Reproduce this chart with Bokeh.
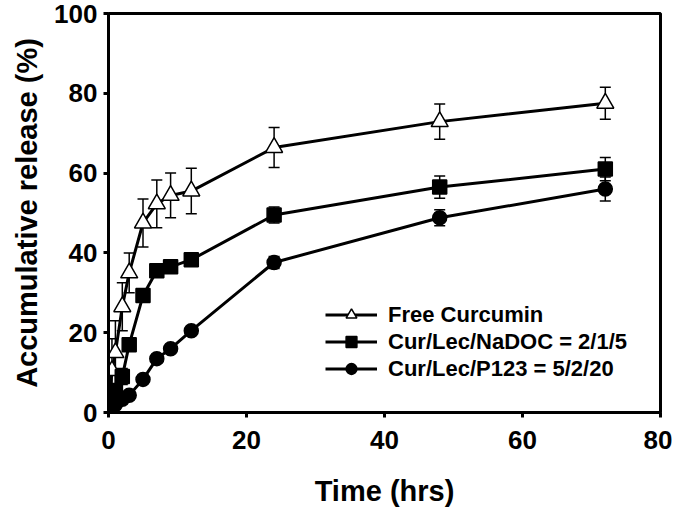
from bokeh.plotting import figure
from bokeh.models import Range1d, Whisker, ColumnDataSource, Legend, LegendItem, TeeHead, FixedTicker
from bokeh.embed import file_html
from bokeh.resources import INLINE

times = [0, 0.5, 1, 2, 3, 5, 7, 9, 12, 24, 48, 72]
free_curcumin = [0, 10.5, 15, 26.5, 35, 47.5, 52.3, 54.4, 55.5, 66.4, 72.9, 77.5]
free_err = [0, 8, 8, 6, 5, 6, 6, 5.6, 5.7, 5, 4.4, 4]
nadoc = [0, 3, 5.5, 9, 17, 29.3, 35.5, 36.5, 38.3, 49.5, 56.5, 61]
nadoc_err = [0, 1, 1.5, 2, 1.5, 1.5, 1.5, 1.5, 1.5, 2, 2.8, 2.9]
p123 = [0, 1, 2, 3.3, 4.3, 8.3, 13.5, 16, 20.5, 37.6, 48.8, 56]
p123_err = [0, 0.5, 0.5, 0.5, 0.8, 1, 1, 1, 1, 1.5, 2, 3]
x_ticks = [0, 20, 40, 60, 80]
y_ticks = [0, 20, 40, 60, 80, 100]
labels = ["Free Curcumin", "Cur/Lec/NaDOC = 2/1/5", "Cur/Lec/P123 = 5/2/20"]

FONT = "Liberation Sans"

p = figure(width=672, height=509, output_backend="svg", toolbar_location=None,
           x_range=Range1d(0, 80), y_range=Range1d(0, 100),
           min_border_left=108, min_border_right=12, min_border_top=13, min_border_bottom=97)
p.xgrid.visible = False
p.ygrid.visible = False
p.outline_line_color = "black"
p.outline_line_width = 3
p.background_fill_color = "white"
p.border_fill_color = "white"

for ax in (p.xaxis[0], p.yaxis[0]):
    ax.axis_line_width = 3
    ax.axis_line_color = "black"
    ax.major_tick_line_width = 3
    ax.major_tick_out = 5
    ax.major_tick_in = 0
    ax.minor_tick_line_color = None
    ax.major_label_text_font = FONT
    ax.major_label_text_font_style = "bold"
    ax.major_label_text_font_size = "26px"
    ax.major_label_text_color = "black"
    ax.axis_label_text_font = FONT
    ax.axis_label_text_font_style = "bold"
    ax.axis_label_text_font_size = "29px"
    ax.axis_label_text_color = "black"

p.xaxis[0].ticker = FixedTicker(ticks=x_ticks)
p.yaxis[0].ticker = FixedTicker(ticks=y_ticks)
p.xaxis[0].axis_label = "Time (hrs)"
p.yaxis[0].axis_label = "Accumulative release (%)"
p.xaxis[0].major_label_standoff = 13
p.xaxis[0].axis_label_standoff = 23
p.yaxis[0].major_label_standoff = 6
p.yaxis[0].axis_label_standoff = 8

series = [
    (free_curcumin, free_err, "triangle", "white", 17),
    (nadoc, nadoc_err, "square", "black", 14),
    (p123, p123_err, "circle", "black", 14),
]

items = []
for (vals, errs, marker, fill, size), lab in zip(series, labels):
    src = ColumnDataSource(dict(
        x=times, y=vals,
        upper=[v + e for v, e in zip(vals, errs)],
        lower=[v - e for v, e in zip(vals, errs)],
    ))
    w = Whisker(source=src, base="x", upper="upper", lower="lower",
                line_color="black", line_width=1.5,
                upper_head=TeeHead(size=11, line_color="black", line_width=1.5),
                lower_head=TeeHead(size=11, line_color="black", line_width=1.5))
    p.add_layout(w)

renderers = []
for (vals, errs, marker, fill, size), lab in zip(series, labels):
    src = ColumnDataSource(dict(x=times, y=vals))
    ln = p.line("x", "y", source=src, line_color="black", line_width=3)
    renderers.append((ln, src, marker, fill, size, lab))

for ln, src, marker, fill, size, lab in renderers:
    sc = p.scatter("x", "y", source=src, marker=marker, size=size,
                   fill_color=fill, line_color="black", line_width=1.5)
    items.append(LegendItem(label=lab, renderers=[ln, sc]))

legend = Legend(items=items, location=(217, 30), border_line_color=None,
                background_fill_alpha=0, padding=0, margin=0, spacing=0,
                glyph_width=52, glyph_height=27, label_height=27,
                label_standoff=11, label_text_font=FONT,
                label_text_font_style="bold", label_text_font_size="22px",
                label_text_color="black")
p.add_layout(legend)

open("out.html", "w").write(file_html(p, INLINE))
